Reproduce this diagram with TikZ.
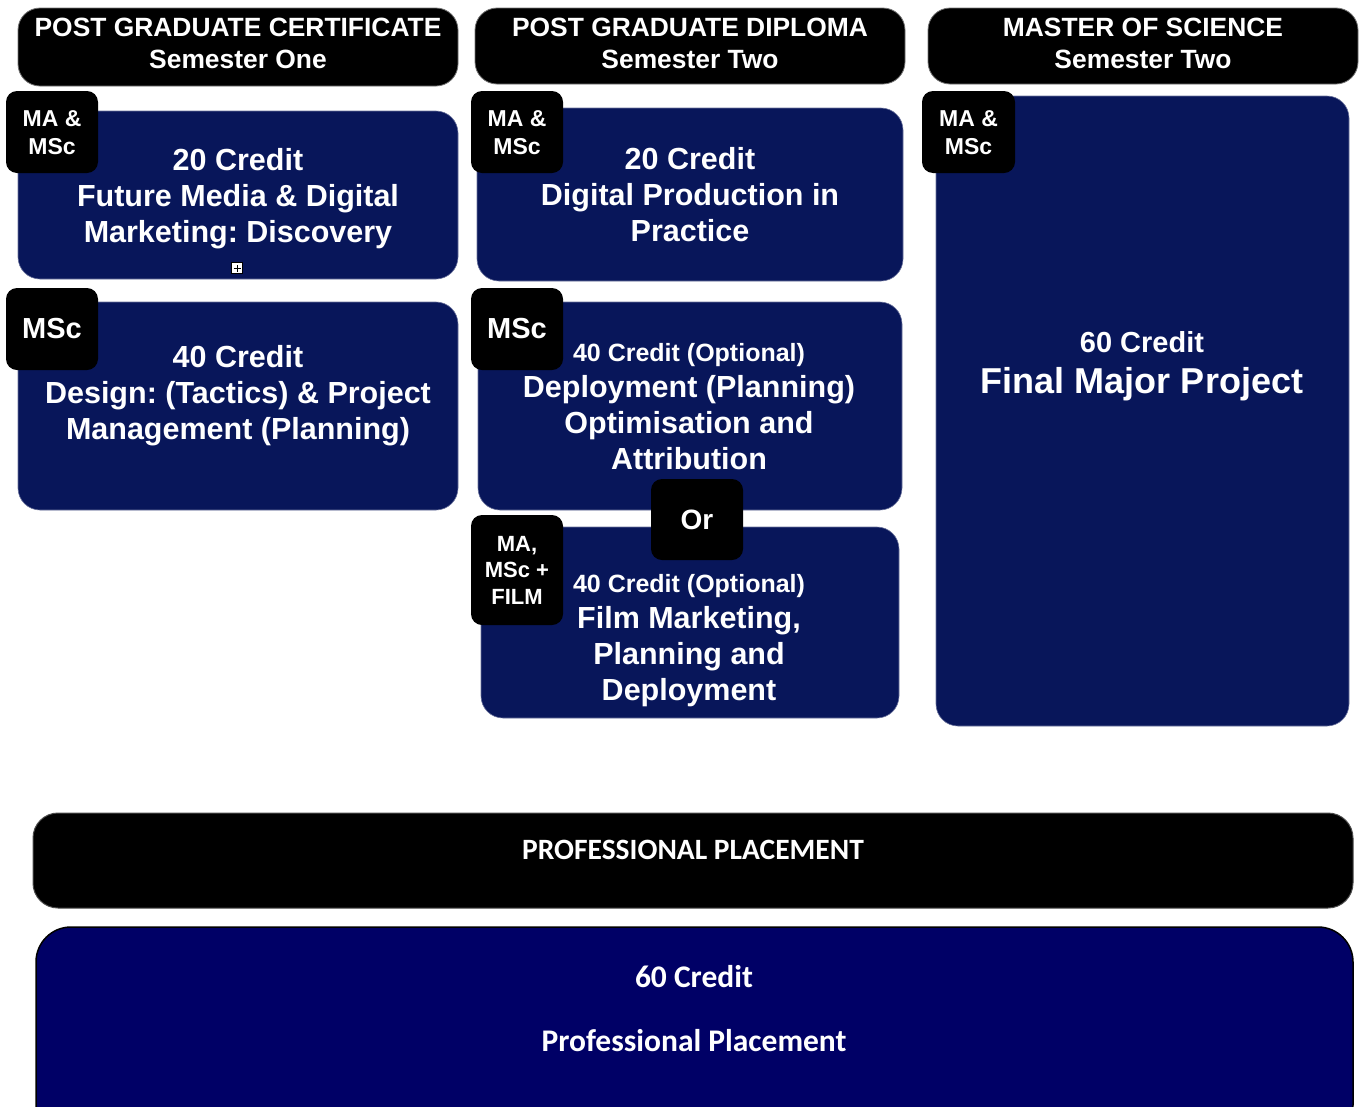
\documentclass[tikz,border=0pt]{standalone}
\usepackage{fontspec}
\setmainfont{Liberation Sans}
\newfontfamily\calib{Carlito}
\definecolor{navyA}{RGB}{8,22,90}
\definecolor{navyB}{RGB}{0,0,102}
\frenchspacing
\begin{document}
\begin{tikzpicture}[x=1pt,y=-1pt,
  hdr/.style={draw=black!55, line width=0.8pt, fill=black, rounded corners=22pt, inner sep=0pt},
  bluebox/.style={draw=navyA!60!white, line width=0.6pt, fill=navyA, rounded corners=22pt, inner sep=0pt},
  tagbox/.style={fill=black, rounded corners=11pt, inner sep=0pt, minimum width=92pt},
  lbl/.style={text=white, align=center, inner sep=0pt},
  hfont/.style={font=\bfseries\fontsize{26.4}{32}\selectfont},
  mfont/.style={font=\bfseries\fontsize{30.5}{36}\selectfont},
  tfont/.style={font=\bfseries\fontsize{23}{28}\selectfont},
]
\path[use as bounding box] (0,0) rectangle (1362,1106);
\clip (0,0) rectangle (1362,1106);

% headers
\node[hdr, minimum width=440pt, minimum height=78pt] (h1) at (238,47) {};
\node[hdr, minimum width=430pt, minimum height=76pt] (h2) at (690,46) {};
\node[hdr, minimum width=430pt, minimum height=76pt] (h3) at (1143,46) {};
\node[lbl, hfont] (h1t) at (238,43) {POST GRADUATE CERTIFICATE\\Semester One};
\node[lbl, hfont] (h2t) at (690,43) {POST GRADUATE DIPLOMA\\Semester Two};
\node[lbl, hfont] (h3t) at (1143,43) {MASTER OF SCIENCE\\Semester Two};

% column 1
\node[bluebox, minimum width=440pt, minimum height=168pt] (b1) at (238,195) {};
\node[lbl, mfont] (b1t) at (238,199) {20 Credit\\Future Media \& Digital\\Marketing: Discovery};
\node[draw=black, fill=white, line width=0.8pt, minimum size=11pt, inner sep=0pt] (plus) at (237,268) {};
\draw[line width=1pt] ([xshift=-3.5pt]plus.center) -- ([xshift=3.5pt]plus.center);
\draw[line width=1pt] ([yshift=-3.5pt]plus.center) -- ([yshift=3.5pt]plus.center);
\node[tagbox, minimum height=82pt] (t1) at (52,132) {};
\node[lbl, tfont] (t1t) at (52,133) {MA \&\\MSc};

\node[bluebox, minimum width=440pt, minimum height=208pt] (b2) at (238,406) {};
\node[lbl, mfont] (b2t) at (238,396) {40 Credit\\Design: (Tactics) \& Project\\Management (Planning)};
\node[tagbox, minimum height=82pt] (t2) at (52,329) {};
\node[lbl, font=\bfseries\fontsize{29}{34}\selectfont] (t2t) at (52,329) {MSc};

% column 2
\node[bluebox, minimum width=426pt, minimum height=173pt] (b3) at (690,194.5) {};
\node[lbl, mfont] (b3t) at (690,195) {20 Credit\\Digital Production in\\Practice};
\node[tagbox, minimum height=82pt] (t3) at (517,132) {};
\node[lbl, tfont] (t3t) at (517,133) {MA \&\\MSc};

\node[bluebox, minimum width=424pt, minimum height=208pt] (b4) at (690,406) {};
\node[lbl, mfont] (b4t) at (689,407) {{\fontsize{25}{30}\selectfont 40 Credit (Optional)}\\Deployment (Planning)\\Optimisation and\\Attribution};
\node[tagbox, minimum height=82pt] (t4) at (517,329) {};
\node[lbl, font=\bfseries\fontsize{29}{34}\selectfont] (t4t) at (517,329) {MSc};

\node[bluebox, minimum width=418pt, minimum height=191pt] (b5) at (690,622.5) {};
\node[lbl, mfont] (b5t) at (689,641) {{\fontsize{25}{30}\selectfont 40 Credit (Optional)}\\Film Marketing,\\Planning and\\Deployment};
\node[tagbox, minimum height=110pt] (t5) at (517,570) {};
\node[lbl, font=\bfseries\fontsize{22}{26.5}\selectfont] (t5t) at (517,570) {MA,\\MSc +\\FILM};
\node[tagbox, minimum height=81pt] (or) at (697,519.5) {};
\node[lbl, font=\bfseries\fontsize{28}{34}\selectfont] (ort) at (697,520) {Or};

% column 3
\node[bluebox, minimum width=413pt, minimum height=630pt] (b6) at (1142.5,411) {};
\node[lbl, font=\bfseries\fontsize{29}{41}\selectfont] (b6t) at (1142,366) {60 Credit\\{\fontsize{36}{41}\selectfont Final Major Project}};
\node[tagbox, minimum width=93pt, minimum height=82pt] (t6) at (968.5,132) {};
\node[lbl, tfont] (t6t) at (968.5,133) {MA \&\\MSc};

% placement
\node[draw=black!70, line width=1pt, fill=black, rounded corners=25pt, minimum width=1320pt, minimum height=95pt, inner sep=0pt] (pp) at (693,860.5) {};
\node[lbl, font=\calib\bfseries\fontsize{29.5}{34}\selectfont] (ppt) at (693,850) {PROFESSIONAL PLACEMENT};
\node[draw=black, line width=1.5pt, fill=navyB, rounded corners=35pt, minimum width=1317pt, minimum height=213pt, inner sep=0pt] (pb) at (694.5,1033.5) {};
\node[lbl, font=\calib\bfseries\fontsize{31.5}{36}\selectfont] (pbt1) at (694,977) {60 Credit};
\node[lbl, font=\calib\bfseries\fontsize{31.5}{36}\selectfont] (pbt2) at (694,1041) {Professional Placement};
\end{tikzpicture}
\end{document}
